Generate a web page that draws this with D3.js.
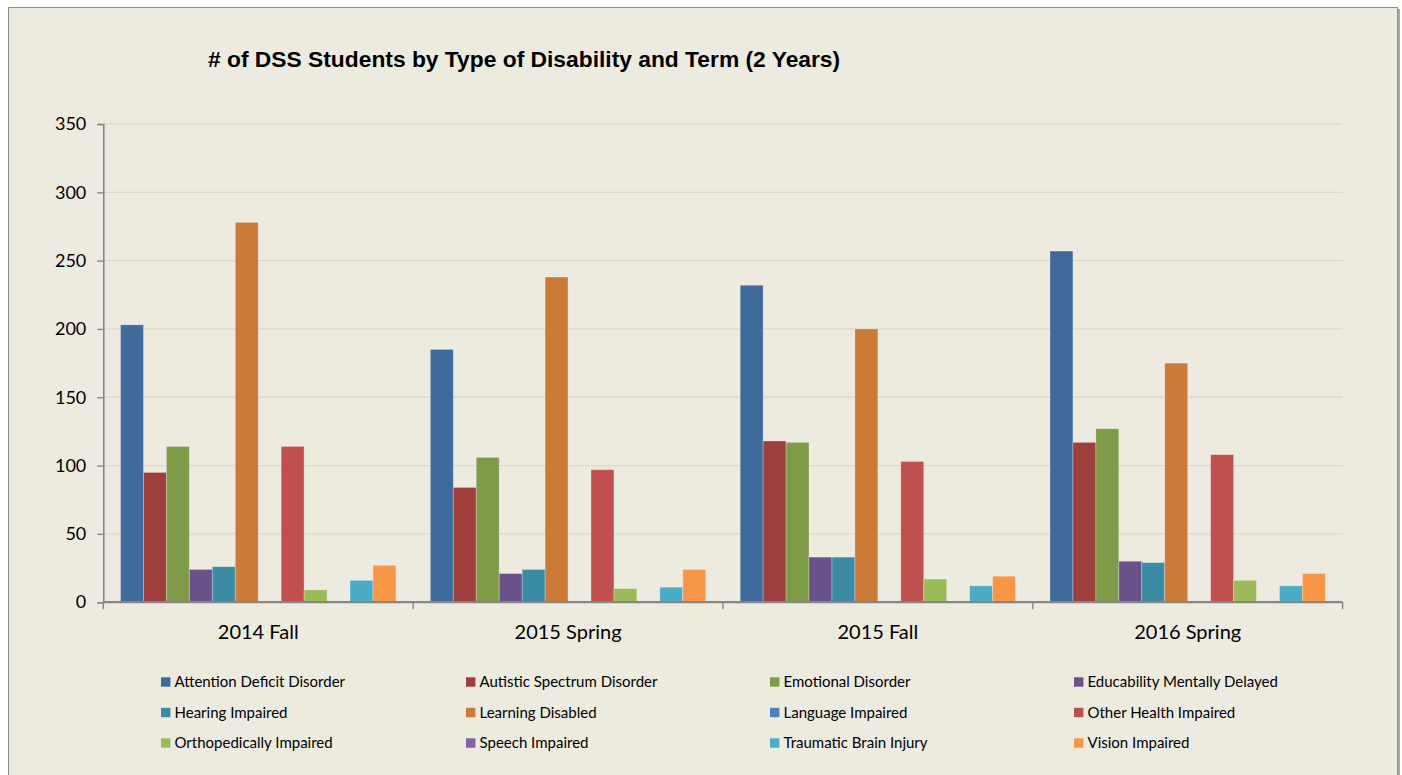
<!DOCTYPE html>
<html>
<head>
<meta charset="utf-8">
<script src="https://cdn.jsdelivr.net/npm/d3@7/dist/d3.min.js"></script>
<style>
  html, body { margin: 0; padding: 0; background: #ffffff; }
  svg { display: block; }
</style>
</head>
<body>
<svg id="chart" width="1402" height="775"></svg>
<script>
// ---- data ----
const terms = ["2014 Fall", "2015 Spring", "2015 Fall", "2016 Spring"];
const seriesNames = [
  "Attention Deficit Disorder", "Autistic Spectrum Disorder", "Emotional Disorder", "Educability Mentally Delayed",
  "Hearing Impaired", "Learning Disabled", "Language Impaired", "Other Health Impaired",
  "Orthopedically Impaired", "Speech Impaired", "Traumatic Brain Injury", "Vision Impaired"
];
const attentionDeficit   = [203, 185, 232, 257];
const autisticSpectrum   = [95, 84, 118, 117];
const emotionalDisorder  = [114, 106, 117, 127];
const educabilityDelayed = [24, 21, 33, 30];
const hearingImpaired    = [26, 24, 33, 29];
const learningDisabled   = [278, 238, 200, 175];
const languageImpaired   = [0, 0, 0, 0];
const otherHealth        = [114, 97, 103, 108];
const orthopedically     = [9, 10, 17, 16];
const speechImpaired     = [0, 0, 0, 0];
const traumaticBrain     = [16, 11, 12, 12];
const visionImpaired     = [27, 24, 19, 21];
const yTicks = [0, 50, 100, 150, 200, 250, 300, 350];
const titleText = "# of DSS Students by Type of Disability and Term (2 Years)";

const seriesValues = [attentionDeficit, autisticSpectrum, emotionalDisorder, educabilityDelayed,
  hearingImpaired, learningDisabled, languageImpaired, otherHealth,
  orthopedically, speechImpaired, traumaticBrain, visionImpaired];
const colors = ["#3F6A9B", "#9E3F3D", "#7F9A48", "#69518A", "#3C8BA4", "#CB7A38",
                "#4F81BD", "#C0504D", "#9BBB59", "#8064A2", "#4BACC6", "#F79646"];

// ---- layout ----
const svg = d3.select("#chart");
const plot = { left: 103.3, right: 1342.6, top: 124, bottom: 602.2 };

// frame
svg.append("rect").attr("x", 10).attr("y", 9).attr("width", 1390).attr("height", 770)
  .attr("fill", "#a8a8a8");
svg.append("rect").attr("x", 8.5).attr("y", 7.5).attr("width", 1389).attr("height", 770)
  .attr("fill", "#EDEBE0").attr("stroke", "#8e8e8e").attr("stroke-width", 1);

const x0 = d3.scaleBand().domain(terms).range([plot.left, plot.right]).paddingInner(0).paddingOuter(0);
const bw = x0.bandwidth();
const barW = bw / 13.5;
const x1 = d3.scaleBand().domain(seriesNames).range([barW * 0.75, bw - barW * 0.75]).padding(0);
const y = d3.scaleLinear().domain([0, 350]).range([plot.bottom, plot.top]);

// gridlines
svg.append("g").selectAll("line").data(yTicks.filter(d => d > 0)).join("line")
  .attr("x1", plot.left).attr("x2", plot.right)
  .attr("y1", d => y(d)).attr("y2", d => y(d))
  .attr("stroke", "#DCD8C7").attr("stroke-width", 1.3);

// bars
const barsG = svg.append("g");
seriesNames.forEach((s, si) => {
  barsG.append("g").selectAll("rect").data(terms.map((t, ti) => ({ t, v: seriesValues[si][ti] })))
    .join("rect")
    .attr("x", d => x0(d.t) + x1(s))
    .attr("y", d => y(d.v))
    .attr("width", x1.bandwidth())
    .attr("height", d => y(0) - y(d.v))
    .attr("fill", colors[si])
    .attr("stroke", d => d.v > 0 ? "rgba(255,255,255,0.35)" : "none")
    .attr("stroke-width", 0.8);
});

// y axis
const yAxis = d3.axisLeft(y).tickValues(yTicks).tickSize(6).tickPadding(11).tickFormat(d3.format("d"));
const yg = svg.append("g").attr("transform", `translate(${plot.left},0)`).call(yAxis);
yg.select(".domain").attr("stroke", "#868686").attr("stroke-width", 1.6);
yg.selectAll(".tick line").attr("stroke", "#868686").attr("stroke-width", 1.4);
yg.selectAll(".tick text").attr("font-family", "Lato, 'Open Sans', sans-serif").attr("font-size", 18)
  .attr("fill", "#000");

// x axis
const xg = svg.append("g").attr("transform", `translate(0,${plot.bottom})`);
xg.append("line").attr("x1", plot.left).attr("x2", plot.right).attr("y1", 0).attr("y2", 0)
  .attr("stroke", "#868686").attr("stroke-width", 2.2);
const boundaries = terms.map(t => x0(t)).concat([plot.right]);
xg.selectAll("line.tk").data(boundaries).join("line").attr("class", "tk")
  .attr("x1", d => d).attr("x2", d => d).attr("y1", 0).attr("y2", 7)
  .attr("stroke", "#868686").attr("stroke-width", 1.4);
xg.selectAll("text").data(terms).join("text")
  .attr("x", d => x0(d) + bw / 2).attr("y", 37)
  .attr("text-anchor", "middle")
  .attr("font-family", "Lato, 'Open Sans', sans-serif").attr("font-size", 20)
  .attr("fill", "#000").text(d => d);

// title
svg.append("text").attr("x", 208).attr("y", 67)
  .attr("font-family", "'Liberation Sans', Arial, sans-serif").attr("font-weight", "bold")
  .attr("font-size", 22.8).attr("fill", "#000").text(titleText);

// legend
const legendCols = [161, 466, 770, 1074];
const legendRows = [682, 712.5, 743];
const lg = svg.append("g");
seriesNames.forEach((s, i) => {
  const cx = legendCols[i % 4], cy = legendRows[Math.floor(i / 4)];
  lg.append("rect").attr("x", cx).attr("y", cy - 4.7).attr("width", 9.4).attr("height", 9.4)
    .attr("fill", colors[i]);
  lg.append("text").attr("x", cx + 13.5).attr("y", cy + 5.2)
    .attr("font-family", "Lato, 'Open Sans', sans-serif").attr("font-size", 15)
    .attr("fill", "#000").text(s);
});
</script>
</body>
</html>
